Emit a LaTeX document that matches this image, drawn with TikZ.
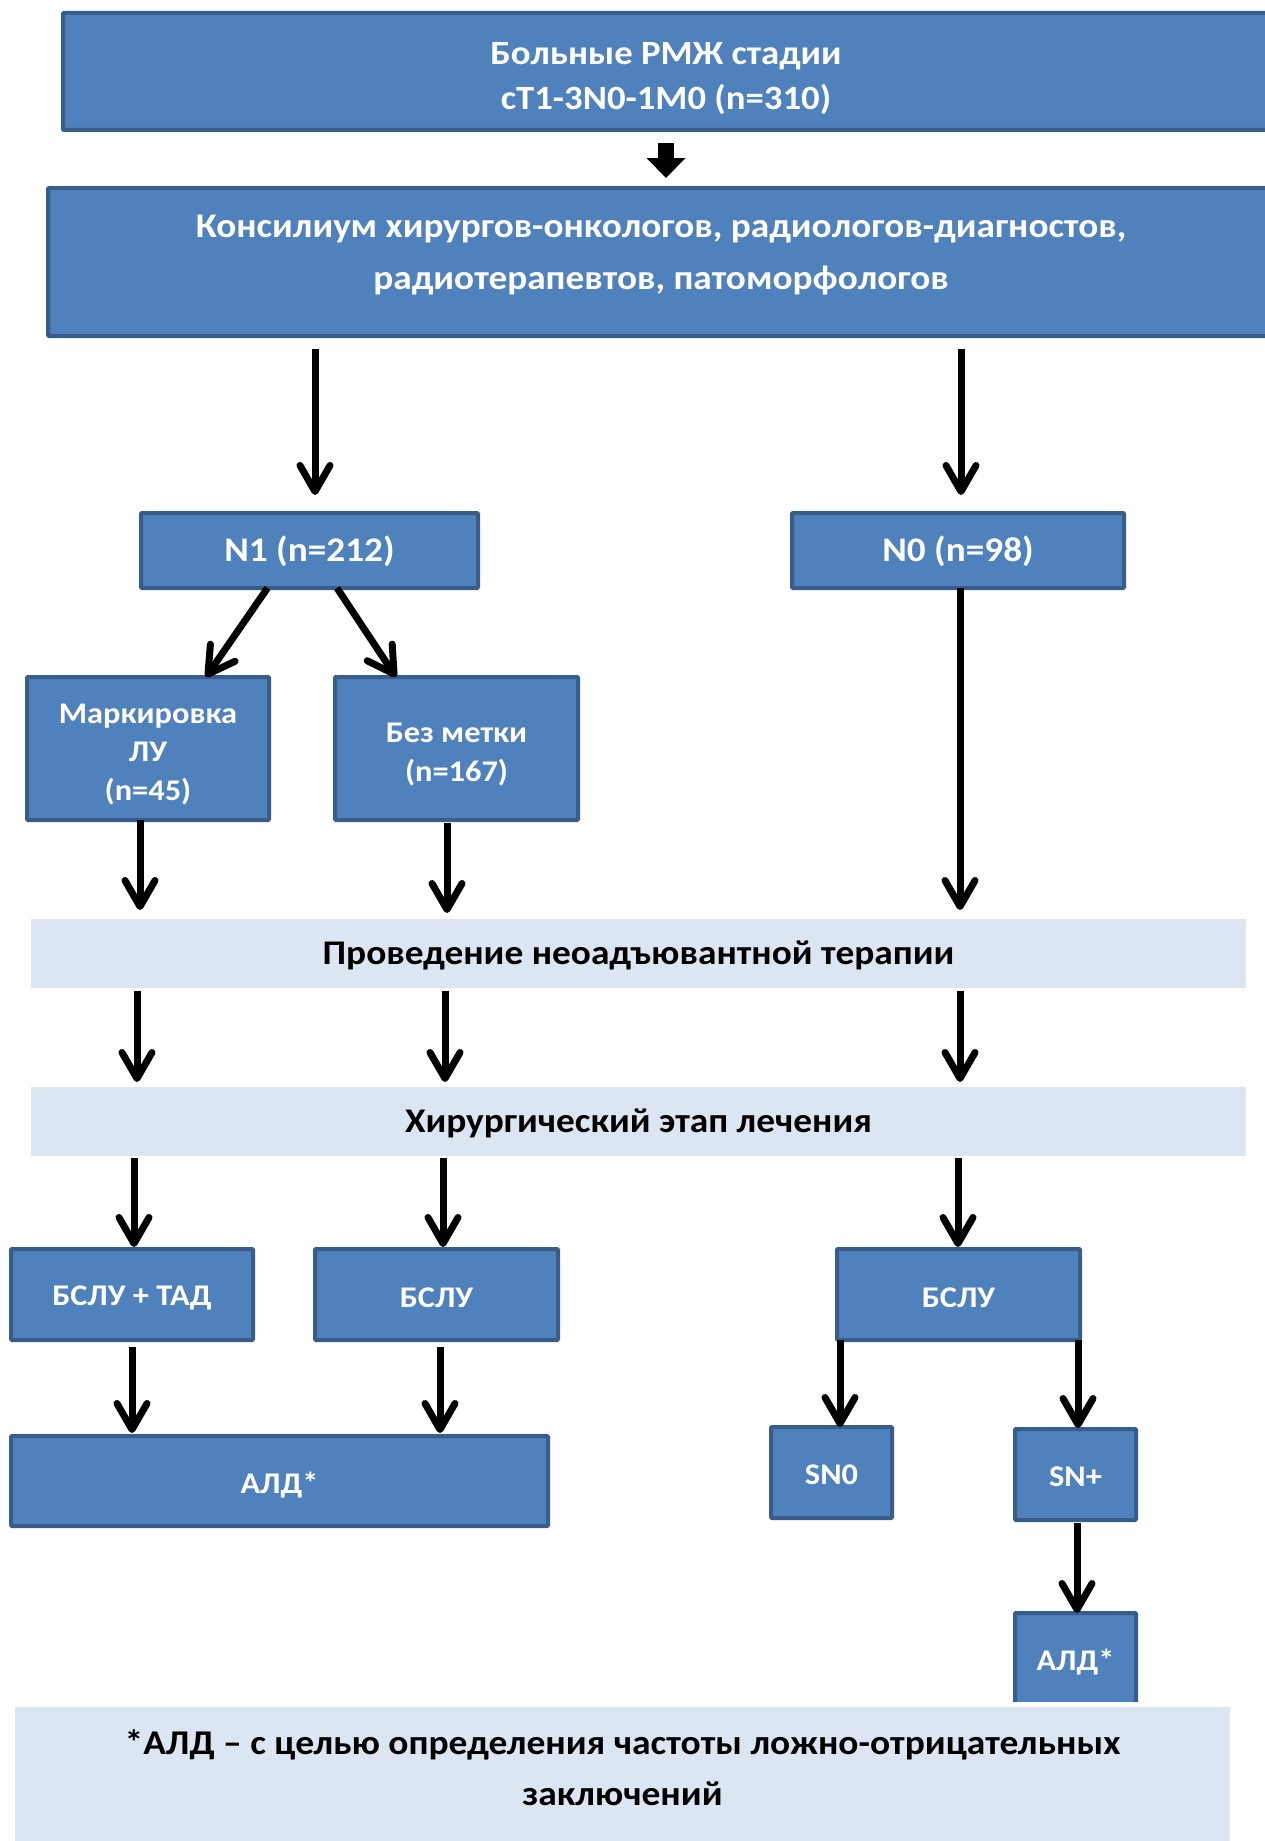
\documentclass[tikz,border=0pt]{standalone}
\usepackage{fontspec}
\setmainfont{Carlito}[FakeStretch=1.08]
\usetikzlibrary{arrows.meta}
\definecolor{boxfill}{HTML}{4F81BD}
\definecolor{boxline}{HTML}{385D8A}
\definecolor{bandfill}{HTML}{DCE6F2}
\begin{document}
\begin{tikzpicture}[x=1pt,y=-1pt,
  bluebox/.style={draw=boxline, fill=boxfill, line width=4pt, inner sep=0pt, outer sep=0pt, rounded corners=1pt},
  bandbox/.style={fill=bandfill, draw=none, inner sep=0pt, outer sep=0pt},
  wtxt/.style={text=white, align=center, inner sep=0pt},
  btxt/.style={text=black, align=center, inner sep=0pt},
  fa/.style={font=\fontsize{34}{45}\selectfont\bfseries},
  fb/.style={font=\fontsize{34.5}{52}\selectfont\bfseries},
  fc/.style={font=\fontsize{30}{38.5}\selectfont\bfseries},
  fd/.style={font=\fontsize{34.5}{45}\selectfont\bfseries},
  fband/.style={font=\fontsize{34.6}{45}\selectfont\bfseries},
  fe/.style={font=\fontsize{34.7}{51}\selectfont\bfseries},
  arr/.style={line width=7pt, -{Straight Barb[length=26pt,width=30pt,round]}},
  blockarr/.style={line width=16pt, -{Triangle[length=20pt,width=39pt,line width=0pt]}}]
\clip (0,0) rectangle (1265,1841);
\fill[white] (0,0) rectangle (1265,1841);

% top boxes
\node[bluebox, minimum width=1206pt, minimum height=117pt] (b1) at (666,71.5) {};
\node[wtxt, fa] (b1t) at ([yshift=-7pt]b1.center) {Больные РМЖ стадии\\cT1-3N0-1M0 (n=310)};
\node[bluebox, minimum width=1226pt, minimum height=148pt] (b2) at (661,262) {};
\node[wtxt, fb] (b2t) at ([yshift=7pt]b2.center)
  {Консилиум хирургов-онкологов, радиологов-диагностов,\\радиотерапевтов, патоморфологов};

% N level
\node[bluebox, minimum width=337pt, minimum height=75pt] (n1) at (309.5,550.5) {};
\node[wtxt, fd] (n1t) at ([yshift=-1pt]n1.center) {N1 (n=212)};
\node[bluebox, minimum width=332pt, minimum height=75pt] (n0) at (958,550.5) {};
\node[wtxt, fd] (n0t) at ([yshift=-1pt]n0.center) {N0 (n=98)};

\node[bluebox, minimum width=242pt, minimum height=143pt] (mk) at (148,748.5) {};
\node[wtxt, fc] (mkt) at ([yshift=-6pt]mk.center) {Маркировка\\ЛУ\\(n=45)};
\node[bluebox, minimum width=243pt, minimum height=143pt] (bz) at (456.5,748.5) {};
\node[wtxt, fc] (bzt) at ([yshift=-6pt]bz.center) {Без метки\\(n=167)};

% bands
\node[bandbox, minimum width=1215pt, minimum height=69pt] (band1) at (638.5,953.5) {};
\node[btxt, fband] (band1t) at ([yshift=-2pt]band1.center) {Проведение неоадъювантной терапии};
\node[bandbox, minimum width=1215pt, minimum height=69pt] (band2) at (638.5,1121.5) {};
\node[btxt, fband] (band2t) at ([yshift=-2pt]band2.center) {Хирургический этап лечения};

% surgery boxes
\node[bluebox, minimum width=242pt, minimum height=91pt] (bt) at (132,1294.5) {};
\node[wtxt, fc] (btt) at ([yshift=-3pt]bt.center) {БСЛУ + ТАД};
\node[bluebox, minimum width=243pt, minimum height=91pt] (bm) at (436.5,1294.5) {};
\node[wtxt, fc] (bmt) at ([yshift=-3pt]bm.center) {БСЛУ};
\node[bluebox, minimum width=243pt, minimum height=91pt] (br) at (958.5,1294.5) {};
\node[wtxt, fc] (brt) at ([yshift=-3pt]br.center) {БСЛУ};

\node[bluebox, minimum width=537pt, minimum height=90pt] (ald1) at (279.5,1481) {};
\node[wtxt, fc] (ald1t) at ([yshift=-4pt]ald1.center) {АЛД*};
\node[bluebox, minimum width=121pt, minimum height=91pt] (sn0) at (831.5,1472.5) {};
\node[wtxt, fc] (sn0t) at ([yshift=-2pt]sn0.center) {SN0};
\node[bluebox, minimum width=121pt, minimum height=91pt] (snp) at (1075.5,1474.5) {};
\node[wtxt, fc] (snpt) at ([yshift=-2pt]snp.center) {SN+};
\node[bluebox, minimum width=121pt, minimum height=99pt] (ald2) at (1075.5,1662.5) {};
\node[wtxt, fc] (ald2t) at (ald2.center) {АЛД*};
\fill[white] (1000,1702) rectangle (1150,1707);

% note
\node[bandbox, minimum width=1215pt, minimum height=140pt] (note) at (622.5,1777) {};
\node[btxt, fe] (notet) at ([yshift=9pt]note.center)
  {*АЛД – с целью определения частоты ложно-отрицательных\\заключений};

% connectors
\draw[blockarr, shorten <=13pt, shorten >=10pt] (b1.south) -- (b1.south |- b2.north);
\draw[arr, shorten <=13pt, shorten >=18pt] (b2.south -| 315,0) -- (n1.north -| 315,0);
\draw[arr, shorten <=13pt, shorten >=18pt] (b2.south -| 961,0) -- (n0.north -| 961,0);
\draw[arr] ([xshift=-42pt]n1.south) -- ([xshift=58pt]mk.north);
\draw[arr] ([xshift=27.5pt]n1.south) -- ([xshift=-60.5pt]bz.north);
\draw[arr, shorten >=9pt] (mk.south -| 140,0) -- (band1.north -| 140,0);
\draw[arr, shorten <=3pt, shorten >=6pt] (bz.south -| 447,0) -- (band1.north -| 447,0);
\draw[arr, shorten >=9pt] (n0.south -| 960,0) -- (band1.north -| 960,0);
\foreach \xx in {137,445,960}
  \draw[arr, shorten <=3pt, shorten >=5pt] (band1.south -| \xx,0) -- (band2.north -| \xx,0);
\draw[arr, shorten <=2pt, shorten >=2pt] (band2.south -| 134,0) -- (bt.north -| 134,0);
\draw[arr, shorten <=2pt, shorten >=2pt] (band2.south -| 443,0) -- (bm.north -| 443,0);
\draw[arr, shorten <=2pt, shorten >=2pt] (band2.south -| 958,0) -- (br.north -| 958,0);
\draw[arr, shorten <=7pt, shorten >=3pt] (bt.south -| 132,0) -- (ald1.north -| 132,0);
\draw[arr, shorten <=7pt, shorten >=3pt] (bm.south -| 440,0) -- (ald1.north -| 440,0);
\draw[arr] (br.south -| 840,0) -- (sn0.north -| 840,0);
\draw[arr, shorten >=1pt] (br.south -| 1078,0) -- (snp.north -| 1078,0);
\draw[arr, shorten <=3pt] (snp.south -| 1077,0) -- (ald2.north -| 1077,0);
\end{tikzpicture}
\end{document}
